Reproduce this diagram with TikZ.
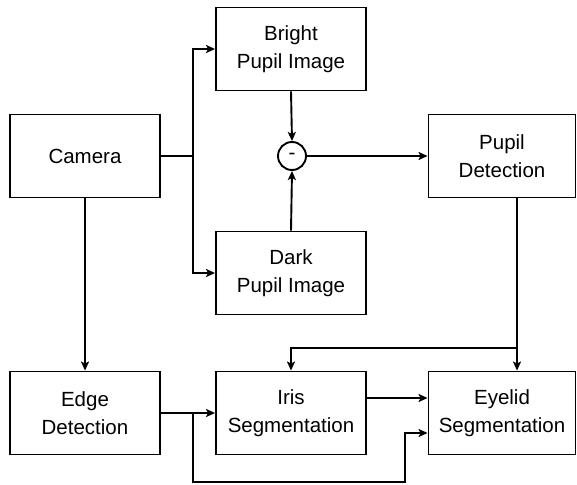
\documentclass[tikz,border=0pt]{standalone}
\usepackage{fontspec}
\setmainfont{Liberation Sans}
\usetikzlibrary{arrows.meta}

\begin{document}
\begin{tikzpicture}[x=1pt,y=-1pt,line width=1.9pt,
    >={Stealth[length=9pt,width=8pt,inset=2pt]}]
    \useasboundingbox (0,0) rectangle (577,484);
    \begin{scope}[every node/.style={rectangle,draw,minimum width=150pt,minimum height=83pt,
        align=center,font=\fontsize{20.5}{28}\selectfont,line width=1.9pt}]
        \node (Camera) at (85,156) {Camera};
        \node (Bright) at (291,49) {Bright\\Pupil Image};
        \node (Dark) at (291,273) {Dark\\Pupil Image};
        \node[minimum width=147pt] (Pupil) at (502,156) {Pupil\\Detection};
        \node (Edge) at (85,413) {Edge\\Detection};
        \node (Iris) at (291,413) {Iris\\Segmentation};
        \node[minimum width=147pt] (Eyelid) at (502,413) {Eyelid\\Segmentation};
    \end{scope}
    \node[circle,draw,inner sep=0pt,minimum size=28pt,font=\fontsize{20.5}{28}\selectfont] (Diff) at (292,156) {-};

    \coordinate (fork) at (193,156);
    \coordinate (split) at (193,413);
    \coordinate (low) at (405,482);
    \coordinate (branch) at (517,348);

    \draw (Camera.east) -- (fork);
    \draw[->] (fork) |- (Bright.west);
    \draw[->] (fork) |- (Dark.west);
    \draw[->] (Bright.south) -- (Diff.north);
    \draw[->] (Dark.north) -- (Diff.south);
    \draw[->] (Diff.east) -- (Pupil.west);
    \draw[->] (Camera.south) -- (Edge.north);
    \draw[->] ([xshift=15pt]Pupil.south) -- ([xshift=15pt]Eyelid.north);
    \draw[->] (branch) -| (Iris.north);
    \draw[->] (Edge.east) -- (Iris.west);
    \draw[->] ([yshift=15pt]Iris.east) -- ([yshift=15pt]Eyelid.west);
    \draw[->] (split) |- (low) |- ([yshift=-20pt]Eyelid.west);
\end{tikzpicture}
\end{document}
